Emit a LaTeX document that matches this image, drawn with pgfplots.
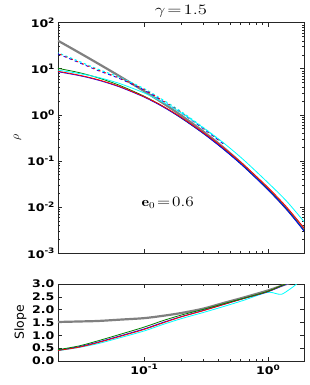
\documentclass[border=0pt]{standalone}
\usepackage{pgfplots}
\pgfplotsset{compat=1.18}
\usepackage{fontspec}
\usepackage{graphicx}
\newfontfamily\tickfont[FakeStretch=1.2]{DejaVu Sans}
\newfontfamily\labfont{DejaVu Sans}
\newcommand{\tl}[1]{10\raisebox{0.45em}{\fontsize{7.5}{7.5}\selectfont #1}}
\definecolor{cgreen}{RGB}{0,128,0}
\definecolor{ccyan}{RGB}{0,255,255}
\definecolor{cgrey}{RGB}{128,128,128}
\pgfplotsset{
  mybase/.style={
    scale only axis, width=246bp,
    xmin=0.0202, xmax=1.95,
    axis line style={black!85, line width=0.7bp},
    every tick/.style={black!85, line width=0.6bp},
    major tick length=4bp, minor tick length=2bp,
    tick align=inside,
    ticklabel style={font=\tickfont\bfseries\fontsize{10.5}{12}\selectfont},
  },
  cl/.style={line width=0.8bp, smooth},
}
\begin{document}
\begin{tikzpicture}
\useasboundingbox (-58bp,22.7bp) rectangle (252bp,-362.3bp);
\begin{axis}[xmode=log, ymode=log, mybase, at={(0,0)}, anchor=north west, height=230.3bp,
  ymin=1e-3, ymax=1e2,
  ytick={1e-3,1e-2,1e-1,1,10,100},
  yticklabels={\tl{-3},\tl{-2},\tl{-1},\tl{0},\tl{1},\tl{2}},
  xtick={0.1,1}, xticklabels={},
  title={\scalebox{1.3}[1]{$\gamma\!=\!1.5$}},
  title style={font=\fontsize{15}{16}\selectfont, yshift=-4.5bp},
  ylabel={$\rho$}, ylabel style={font=\fontsize{12.5}{14}\selectfont, yshift=-1bp},
]
\addplot[cgrey, line width=2.2bp, smooth] coordinates {(0.0202,40.7)(0.03,22.3)(0.0427,12.9)(0.0631,6.95)(0.1,3.27)(0.1413,1.81)(0.1995,0.966)(0.3,0.436)(0.4365,0.195)(0.631,0.0815)(1,0.0245)(1.413,0.00908)(1.95,0.00334)};
\addplot[ccyan, cl, dash pattern=on 2.5bp off 2.5bp, dash phase=2bp, line width=1.1bp] coordinates {(0.0202,22.2)(0.03,14.4)(0.0427,9.70)(0.0631,6.56)(0.1,3.69)(0.1413,2.12)(0.1995,1.17)(0.3,0.53)(0.4365,0.245)};
\addplot[blue, cl, dash pattern=on 3bp off 3bp] coordinates {(0.0202,21.0)(0.03,13.5)(0.0427,9.10)(0.0631,6.15)(0.1,3.45)(0.1413,1.98)(0.1995,1.10)(0.3,0.50)(0.4365,0.232)};
\addplot[red, cl, dash pattern=on 2bp off 4bp, dash phase=4bp] coordinates {(0.0202,21.4)(0.03,13.8)(0.0427,9.33)(0.0631,6.31)(0.1,3.55)(0.1413,2.04)(0.1995,1.13)(0.3,0.51)(0.4365,0.238)};
\addplot[cgreen, cl] coordinates {(0.0202,10.2)(0.03,8.24)(0.0427,6.34)(0.0631,4.39)(0.1,2.54)(0.1413,1.54)(0.1995,0.851)(0.3,0.397)(0.4365,0.181)(0.631,0.0775)(1,0.0240)(1.413,0.0090)(1.95,0.00305)};
\addplot[ccyan, cl] coordinates {(0.0202,9.33)(0.03,7.87)(0.0427,6.49)(0.0631,4.81)(0.1,2.99)(0.1413,1.89)(0.1995,1.10)(0.3,0.525)(0.4365,0.247)(0.631,0.107)(1,0.0335)(1.413,0.0133)(1.95,0.0048)};
\addplot[blue, cl] coordinates {(0.0202,8.61)(0.03,7.10)(0.0427,5.65)(0.0631,4.05)(0.1,2.43)(0.1413,1.50)(0.1995,0.851)(0.3,0.394)(0.4365,0.179)(0.631,0.0764)(1,0.0235)(1.413,0.00877)(1.95,0.0030)};
\addplot[red, cl] coordinates {(0.0202,8.81)(0.03,7.26)(0.0427,5.78)(0.0631,4.14)(0.1,2.48)(0.1413,1.55)(0.1995,0.881)(0.3,0.412)(0.4365,0.192)(0.631,0.0838)(1,0.0264)(1.413,0.00995)(1.95,0.00347)};
\node[font=\fontsize{13.5}{15}\selectfont] at (axis cs:0.155,0.012) {\scalebox{1.2}[1]{$\mathbf{e}_0\!=\!0.6$}};
\end{axis}
\begin{axis}[xmode=log, mybase, at={(0,-261.3bp)}, anchor=north west, height=77bp,
  ymin=0, ymax=3,
  ytick={0,0.5,1,1.5,2,2.5,3},
  yticklabels={0.0,0.5,1.0,1.5,2.0,2.5,3.0},
  xtick={0.1,1}, xticklabels={\tl{-1},\tl{0}},
  ylabel={Slope}, ylabel style={font=\labfont\fontsize{12.5}{14}\selectfont, yshift=-1bp},
]
\addplot[cgrey, line width=2.2bp, smooth] coordinates {(0.0202,1.52)(0.03,1.54)(0.0427,1.56)(0.0631,1.61)(0.1,1.67)(0.1413,1.76)(0.1995,1.87)(0.3,2.04)(0.4365,2.26)(0.631,2.47)(1,2.75)(1.413,3.0)(1.95,3.2)};
\addplot[ccyan, cl] coordinates {(0.0202,0.40)(0.03,0.53)(0.0427,0.68)(0.0631,0.90)(0.1,1.17)(0.1413,1.42)(0.1995,1.65)(0.3,1.89)(0.4365,2.12)(0.631,2.36)(0.977,2.67)(1.175,2.62)(1.29,2.60)(1.5,2.80)(1.70,3.0)(1.95,3.3)};
\addplot[blue, cl] coordinates {(0.0202,0.42)(0.03,0.56)(0.0427,0.74)(0.0631,0.97)(0.1,1.25)(0.1413,1.50)(0.1995,1.73)(0.3,1.97)(0.4365,2.2)(0.631,2.43)(1,2.7)(1.413,3.0)(1.95,3.2)};
\addplot[red, cl] coordinates {(0.0202,0.41)(0.03,0.54)(0.0427,0.72)(0.0631,0.95)(0.1,1.23)(0.1413,1.48)(0.1995,1.72)(0.3,1.96)(0.4365,2.2)(0.631,2.43)(1,2.71)(1.413,3.02)(1.95,3.2)};
\addplot[cgreen, cl] coordinates {(0.0202,0.44)(0.03,0.59)(0.0427,0.79)(0.0631,1.03)(0.1,1.32)(0.1413,1.57)(0.1995,1.79)(0.3,2.01)(0.4365,2.23)(0.631,2.44)(1,2.72)(1.413,3.02)(1.95,3.2)};
\end{axis}
\end{tikzpicture}
\end{document}
